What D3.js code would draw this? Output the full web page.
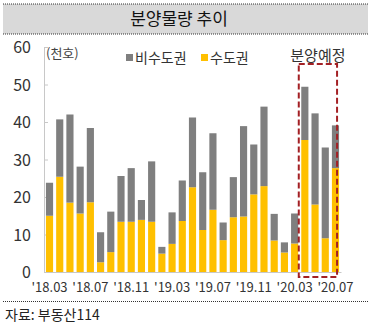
<!DOCTYPE html>
<html><head><meta charset="utf-8">
<script src="https://cdn.jsdelivr.net/npm/d3@7/dist/d3.min.js"></script>
<style>
html,body{margin:0;padding:0;background:#fff;}
svg{display:block;font-family:"Noto Sans CJK KR","Noto Sans",sans-serif;}
</style></head>
<body>
<svg id="c" width="371" height="328"></svg>
<script>
const months = ["18.03","18.04","18.05","18.06","18.07","18.08","18.09","18.10","18.11","18.12",
"19.01","19.02","19.03","19.04","19.05","19.06","19.07","19.08","19.09","19.10","19.11","19.12",
"20.01","20.02","20.03","20.04","20.05","20.06","20.07"];
const capital = [15.0,25.4,18.5,15.6,18.6,2.6,5.3,13.4,13.4,13.9,13.4,4.9,7.5,13.6,22.6,11.2,16.6,8.5,14.6,14.8,20.7,22.9,8.4,5.2,7.6,35.2,18.0,9.0,27.7];
const nonCapital = [8.8,15.3,23.5,12.5,19.8,8.0,10.8,12.2,14.3,5.3,16.1,1.8,8.4,10.8,18.6,15.4,20.4,4.7,10.7,24.1,13.3,21.2,7.1,2.7,8.0,14.2,24.3,24.2,11.4];
const xTickLabels = ["18.03","18.07","18.11","19.03","19.07","19.11","20.03","20.07"];
const yTicks = [0,10,20,30,40,50,60];
const plannedMonths = ["20.04","20.05","20.06","20.07"];
const seriesNames = ["비수도권","수도권"];

const svg = d3.select("#c");
const W = 371;

// title band
svg.append("rect").attr("x",3).attr("y",4).attr("width",365).attr("height",30).attr("fill","#d9d9d9");
[4,34].forEach(y=>svg.append("line").attr("x1",3).attr("x2",368).attr("y1",y).attr("y2",y)
  .attr("stroke","#333").attr("stroke-width",1).attr("stroke-dasharray","1,1"));
svg.append("text").attr("x",179).attr("y",25).attr("text-anchor","middle")
  .attr("font-size",17).attr("fill","#111").text("분양물량 추이");

const x = d3.scaleBand().domain(months).range([44,341]).paddingInner(0.3).paddingOuter(0.19);
const y = d3.scaleLinear().domain([0,60]).range([272,47]);

// axes
const ya = svg.append("g").attr("transform","translate(44,0)")
  .call(d3.axisRight(y).tickValues(yTicks).tickSize(4).tickFormat(""));
ya.select(".domain").attr("stroke","#c8c8c8");
ya.selectAll(".tick line").attr("stroke","#c8c8c8");
svg.append("g").selectAll("text").data(yTicks).join("text")
  .attr("x",31).attr("y",d=>y(d)+6).attr("text-anchor","end")
  .attr("font-size",16).attr("fill","#333").text(d=>d);

const xa = svg.append("g").attr("transform","translate(0,272)")
  .call(d3.axisBottom(x).tickValues(xTickLabels).tickSize(0).tickFormat(d=>"'"+d).tickPadding(11));
xa.select(".domain").attr("stroke","#c8c8c8");
xa.selectAll("text").attr("font-size",13).attr("fill","#333").attr("font-family","'Noto Sans CJK KR',sans-serif");

// bars
const stack = months.map((m,i)=>({m, c:capital[i], n:nonCapital[i]}));
svg.append("g").selectAll("rect").data(stack).join("rect")
  .attr("x",d=>x(d.m)).attr("width",x.bandwidth())
  .attr("y",d=>y(d.c)).attr("height",d=>y(0)-y(d.c)).attr("fill","#ffc000");
svg.append("g").selectAll("rect").data(stack).join("rect")
  .attr("x",d=>x(d.m)).attr("width",x.bandwidth())
  .attr("y",d=>y(d.c+d.n)).attr("height",d=>y(d.c)-y(d.c+d.n)).attr("fill","#7f7f7f");

// planned box
const bx0 = x(plannedMonths[0]) - 2.5;
const bx1 = x(plannedMonths[plannedMonths.length-1]) + x.bandwidth() - 2;
svg.append("rect").attr("x",bx0).attr("y",64).attr("width",bx1-bx0).attr("height",213)
  .attr("fill","none").attr("stroke","#a32024").attr("stroke-width",2).attr("stroke-dasharray","6,3");
svg.append("text").attr("x",(bx0+bx1)/2).attr("y",61).attr("text-anchor","middle")
  .attr("font-size",15).attr("fill","#333").text("분양예정");

// unit
svg.append("text").attr("x",46).attr("y",58).attr("font-size",13).attr("fill","#444").text("(천호)");

// legend
const leg = [{name:seriesNames[0],color:"#7f7f7f",x:126},{name:seriesNames[1],color:"#ffc000",x:201}];
leg.forEach(l=>{
  svg.append("rect").attr("x",l.x).attr("y",54).attr("width",7).attr("height",7).attr("fill",l.color);
  svg.append("text").attr("x",l.x+9).attr("y",63).attr("font-size",14).attr("fill","#333").text(l.name);
});

// source
svg.append("line").attr("x1",3).attr("x2",368).attr("y1",301.5).attr("y2",301.5)
  .attr("stroke","#333").attr("stroke-dasharray","1,1");
svg.append("text").attr("x",5).attr("y",320).attr("font-size",14).attr("fill","#222").text("자료: 부동산114");
</script>
</body></html>
